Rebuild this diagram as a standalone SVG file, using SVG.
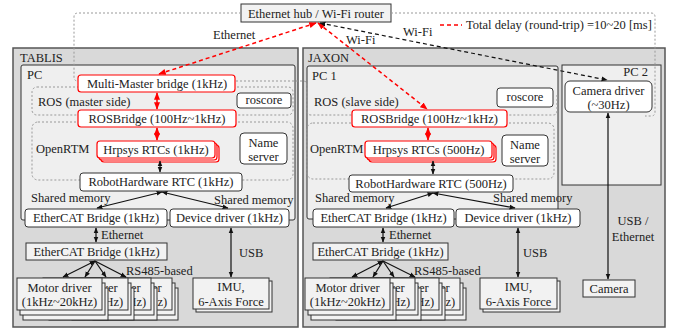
<svg xmlns="http://www.w3.org/2000/svg" width="673" height="335" viewBox="0 0 673 335">
<style>
.t{font-family:"Liberation Serif","Times New Roman",serif;font-size:12.5px;fill:#222}
.c{text-anchor:middle}
.e{text-anchor:end}
.outer{fill:#d9d9d9;stroke:#555;stroke-width:1.5}
.pc{fill:#efefef;stroke:#333;stroke-width:1}
.node{fill:#fff;stroke:#333;stroke-width:1}
.red{fill:#fff;stroke:#f00;stroke-width:1.2}
.sq{fill:#f2f2f2;stroke:#333;stroke-width:1}
.region{fill:none;stroke:#999;stroke-width:1;stroke-dasharray:2 2}
.ln{fill:none;stroke:#111;stroke-width:1.2}
.lr{fill:none;stroke:#f00;stroke-width:1.5}
.ld{stroke-dasharray:4 3}
</style>
<defs>
<marker id="ab" viewBox="0 0 10 10" refX="9" refY="5" markerWidth="5" markerHeight="5" orient="auto-start-reverse"><path d="M0,1 L10,5 L0,9 z" fill="#111"/></marker>
<marker id="ar" viewBox="0 0 10 10" refX="9" refY="5" markerWidth="5" markerHeight="5" orient="auto-start-reverse"><path d="M0,1 L10,5 L0,9 z" fill="#f00"/></marker>
<g id="card"><rect class="sq" x="6" y="10" width="85" height="32"/><rect class="sq" x="3" y="5" width="85" height="32"/><rect class="sq" x="0" y="0" width="85" height="32"/><text class="t c" x="42.5" y="14">Motor driver</text><text class="t c" x="42.5" y="28">(1kHz~20kHz)</text></g>
</defs>

<!-- containers -->
<g id="tablis">
<rect class="outer" x="13" y="48" width="285" height="279"/>
<text class="t" x="20" y="62">TABLIS</text>
<rect class="pc" x="21" y="65" width="274" height="155" rx="2"/>
<text class="t" x="27" y="79">PC</text>
<rect class="region" x="32" y="87" width="261" height="28" rx="5"/>
<text class="t" x="38" y="106">ROS (master side)</text>
<rect class="region" x="32" y="122" width="261" height="58" rx="6"/>
<text class="t" x="36" y="153">OpenRTM</text>
</g>
<g id="jaxon">
<rect class="outer" x="303" y="48" width="362" height="279"/>
<text class="t" x="308" y="62">JAXON</text>
<rect class="pc" x="307" y="66" width="251" height="153" rx="2"/>
<text class="t" x="312" y="80">PC 1</text>
<path class="region" d="M236,81 H303 Q307,81 307,85 V111 Q307,115 311,115 H553 Q557,115 557,111 V95"/>
<text class="t" x="314" y="106">ROS (slave side)</text>
<rect class="region" x="307" y="123" width="247" height="56" rx="6"/>
<text class="t" x="310" y="153">OpenRTM</text>
<rect class="pc" x="562" y="65" width="99" height="120"/>
<text class="t e" x="648" y="76">PC 2</text>
</g>

<!-- top -->
<g id="hub">
<rect class="sq" x="241" y="4" width="150" height="18"/>
<text class="t c" x="316" y="18">Ethernet hub / Wi-Fi router</text>
</g>
<path class="region" d="M241,13 H78 Q74,13 74,17 V77 Q74,81 78,81"/>
<path class="region" d="M391,13 H651 Q655,13 655,17 V112 Q655,116 651,116 H645"/>
<g id="legend">
<line class="lr ld" x1="440" y1="25" x2="462" y2="25"/>
<text class="t" x="466" y="29">Total delay (round-trip) =10~20 [ms]</text>
</g>

<!-- TABLIS nodes -->
<g id="t-mm"><rect class="red" x="78" y="75" width="157" height="17" rx="3"/><text class="t c" x="157" y="88">Multi-Master bridge (1kHz)</text></g>
<g id="t-roscore"><rect class="node" x="237" y="93" width="54" height="15" rx="3"/><text class="t c" x="264" y="104">roscore</text></g>
<g id="t-rosbridge"><rect class="red" x="78" y="110" width="158" height="17" rx="3"/><text class="t c" x="157" y="123">ROSBridge (100Hz~1kHz)</text></g>
<g id="t-hrpsys"><rect class="red" x="101" y="145" width="118" height="17" rx="3"/><rect class="red" x="99" y="143" width="118" height="17" rx="3"/><rect class="red" x="97" y="141" width="118" height="17" rx="3"/><text class="t c" x="156" y="154">Hrpsys RTCs (1kHz)</text></g>
<g id="t-name"><rect class="node" x="240" y="133" width="47" height="31" rx="4"/><text class="t c" x="263.5" y="147">Name</text><text class="t c" x="263.5" y="161">server</text></g>
<g id="t-rh"><rect class="node" x="80" y="173" width="162" height="18" rx="3"/><text class="t c" x="161" y="186">RobotHardware RTC (1kHz)</text></g>
<text class="t" x="31" y="202">Shared memory</text>
<text class="t" x="214" y="204">Shared memory</text>
<g id="t-ecat1"><rect class="node" x="25" y="209" width="142" height="18" rx="3"/><text class="t c" x="96" y="222">EtherCAT Bridge (1kHz)</text></g>
<g id="t-dev"><rect class="node" x="170" y="209" width="119" height="18" rx="3"/><text class="t c" x="229.5" y="222">Device driver (1kHz)</text></g>
<text class="t" x="101" y="239">Ethernet</text>
<g id="t-ecat2"><rect class="sq" x="26" y="243" width="141" height="17"/><text class="t c" x="96.5" y="256">EtherCAT Bridge (1kHz)</text></g>
<text class="t" x="126" y="275">RS485-based</text>
<g id="t-motor"><use href="#card" x="87" y="278"/><use href="#card" x="66" y="278"/><use href="#card" x="43" y="278"/><use href="#card" x="17" y="278"/></g>
<g id="t-imu"><rect class="sq" x="196" y="281" width="76" height="31"/><rect class="sq" x="193" y="278" width="76" height="31"/><text class="t c" x="231" y="291">IMU,</text><text class="t c" x="231" y="306">6-Axis Force</text></g>
<text class="t" x="239" y="257">USB</text>

<!-- JAXON nodes -->
<g id="j-roscore"><rect class="node" x="497" y="88" width="56" height="19" rx="3"/><text class="t c" x="525" y="101">roscore</text></g>
<g id="j-rosbridge"><rect class="red" x="352" y="110" width="155" height="17" rx="3"/><text class="t c" x="429.5" y="123">ROSBridge (100Hz~1kHz)</text></g>
<g id="j-hrpsys"><rect class="red" x="369" y="145" width="127" height="17" rx="3"/><rect class="red" x="367" y="143" width="127" height="17" rx="3"/><rect class="red" x="365" y="141" width="127" height="17" rx="3"/><text class="t c" x="428.5" y="154">Hrpsys RTCs (500Hz)</text></g>
<g id="j-name"><rect class="node" x="502" y="135" width="46" height="31" rx="4"/><text class="t c" x="525" y="149">Name</text><text class="t c" x="525" y="163">server</text></g>
<g id="j-rh"><rect class="node" x="349" y="175" width="164" height="17" rx="3"/><text class="t c" x="431" y="188">RobotHardware RTC (500Hz)</text></g>
<text class="t" x="315" y="202">Shared memory</text>
<text class="t" x="493" y="202">Shared memory</text>
<g id="j-ecat1"><rect class="node" x="313" y="209" width="141" height="18" rx="3"/><text class="t c" x="383.5" y="222">EtherCAT Bridge (1kHz)</text></g>
<g id="j-dev"><rect class="node" x="456" y="209" width="124" height="18" rx="3"/><text class="t c" x="518" y="222">Device driver (1kHz)</text></g>
<text class="t" x="389" y="239">Ethernet</text>
<g id="j-ecat2"><rect class="sq" x="313" y="243" width="135" height="17"/><text class="t c" x="380.5" y="256">EtherCAT Bridge (1kHz)</text></g>
<text class="t" x="414" y="275">RS485-based</text>
<g id="j-motor"><use href="#card" x="375" y="278"/><use href="#card" x="354" y="278"/><use href="#card" x="330" y="278"/><use href="#card" x="305" y="278"/></g>
<g id="j-imu"><rect class="sq" x="483" y="281" width="77" height="31"/><rect class="sq" x="480" y="278" width="77" height="31"/><text class="t c" x="518.5" y="291">IMU,</text><text class="t c" x="518.5" y="306">6-Axis Force</text></g>
<text class="t" x="523" y="257">USB</text>

<!-- PC2 nodes -->
<g id="camdrv"><rect class="node" x="565" y="81" width="87" height="31" rx="5"/><text class="t c" x="608.5" y="95">Camera driver</text><text class="t c" x="608.5" y="109">(~30Hz)</text></g>
<g id="camera"><rect class="sq" x="583" y="280" width="52" height="17"/><text class="t c" x="609" y="293">Camera</text></g>
<text class="t c" x="633" y="225">USB /</text>
<text class="t c" x="633" y="241">Ethernet</text>

<!-- connectors -->
<g id="connectors">
<line class="lr ld" x1="316" y1="23" x2="159" y2="74" marker-start="url(#ar)" marker-end="url(#ar)"/>
<line class="lr ld" x1="318" y1="23" x2="427" y2="109" marker-start="url(#ar)" marker-end="url(#ar)"/>
<line class="ln ld" x1="320" y1="23" x2="607" y2="80" marker-start="url(#ab)" marker-end="url(#ab)"/>
<line class="lr" x1="157" y1="93" x2="157" y2="109" marker-start="url(#ar)" marker-end="url(#ar)"/>
<line class="lr" x1="157" y1="128" x2="157" y2="140" marker-start="url(#ar)" marker-end="url(#ar)"/>
<line class="ln" x1="160" y1="161" x2="160" y2="172" marker-start="url(#ab)" marker-end="url(#ab)"/>
<line class="ln" x1="162" y1="192" x2="97" y2="208" marker-start="url(#ab)" marker-end="url(#ab)"/>
<line class="ln" x1="162" y1="192" x2="228" y2="208" marker-start="url(#ab)" marker-end="url(#ab)"/>
<line class="ln" x1="96" y1="228" x2="96" y2="242" marker-start="url(#ab)" marker-end="url(#ab)"/>
<line class="ln" x1="95" y1="261" x2="63" y2="277" marker-start="url(#ab)" marker-end="url(#ab)"/>
<line class="ln" x1="95" y1="261" x2="85" y2="277" marker-end="url(#ab)"/>
<line class="ln" x1="95" y1="261" x2="106" y2="277" marker-end="url(#ab)"/>
<line class="ln" x1="95" y1="261" x2="126" y2="277" marker-end="url(#ab)"/>
<line class="ln" x1="231" y1="228" x2="231" y2="277" marker-start="url(#ab)" marker-end="url(#ab)"/>
<line class="lr" x1="428" y1="128" x2="428" y2="140" marker-start="url(#ar)" marker-end="url(#ar)"/>
<line class="ln" x1="433" y1="161" x2="433" y2="174" marker-start="url(#ab)" marker-end="url(#ab)"/>
<line class="ln" x1="433" y1="193" x2="386" y2="208" marker-start="url(#ab)" marker-end="url(#ab)"/>
<line class="ln" x1="433" y1="193" x2="515" y2="208" marker-start="url(#ab)" marker-end="url(#ab)"/>
<line class="ln" x1="383" y1="228" x2="383" y2="242" marker-start="url(#ab)" marker-end="url(#ab)"/>
<line class="ln" x1="383" y1="261" x2="352" y2="277" marker-start="url(#ab)" marker-end="url(#ab)"/>
<line class="ln" x1="383" y1="261" x2="373" y2="277" marker-end="url(#ab)"/>
<line class="ln" x1="383" y1="261" x2="394" y2="277" marker-end="url(#ab)"/>
<line class="ln" x1="383" y1="261" x2="415" y2="277" marker-end="url(#ab)"/>
<line class="ln" x1="518" y1="228" x2="518" y2="277" marker-start="url(#ab)" marker-end="url(#ab)"/>
<line class="ln" x1="608" y1="113" x2="608" y2="279" marker-start="url(#ab)" marker-end="url(#ab)"/>
</g>
<text class="t" x="213" y="39">Ethernet</text>
<text class="t" x="346" y="44">Wi-Fi</text>
<text class="t" x="403" y="36">Wi-Fi</text>
</svg>
